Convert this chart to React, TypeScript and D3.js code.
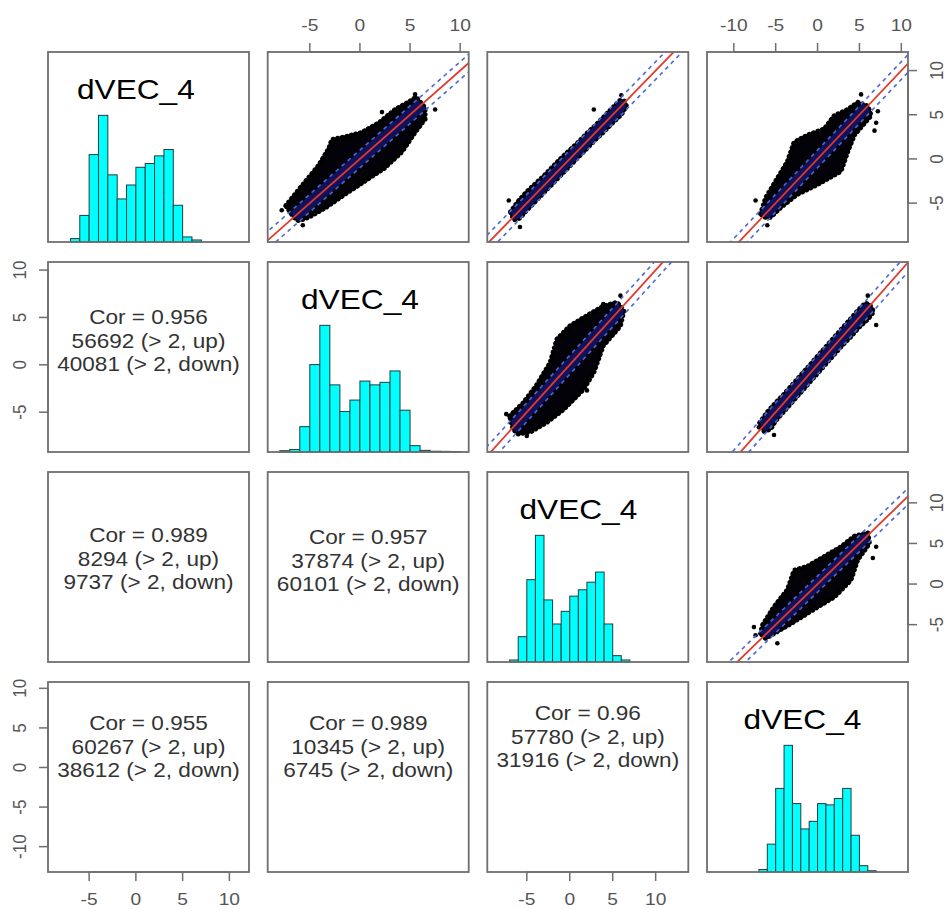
import React, { useEffect, useRef } from 'react';
import * as d3 from 'd3';

// variables of the pairs plot
const varNames = ['dVEC_4', 'dVEC_4', 'dVEC_4', 'dVEC_4'];
const varLimits: [number, number][] = [[-9.4, 12.1], [-9.2, 10.85], [-9.6, 13.8], [-13.2, 10.8]];
const varTicks = [[-5, 0, 5, 10], [-5, 0, 5, 10], [-5, 0, 5, 10], [-10, -5, 0, 5, 10]];

// histograms on the diagonal, bins of width 1
const histStart = [-7, -8, -7, -7];
const hist1 = [27, 210, 690, 1000, 530, 340, 450, 590, 620, 680, 730, 290, 40, 16];
const hist2 = [10, 20, 200, 690, 1000, 530, 320, 410, 560, 530, 550, 640, 330, 50, 13, 6, 5, 4];
const hist3 = [16, 200, 650, 1000, 490, 300, 400, 520, 570, 630, 710, 300, 50, 16];
const hist4 = [20, 220, 660, 1000, 540, 340, 400, 540, 530, 580, 660, 290, 50, 10];
const histCounts = [hist1, hist2, hist3, hist4];

// lower panels: [row, col]
const corCells = [[1, 0], [2, 0], [2, 1], [3, 0], [3, 1], [3, 2]];
const corValues = ['0.956', '0.989', '0.957', '0.955', '0.989', '0.96'];
const upCounts = [56692, 8294, 37874, 60267, 10345, 57780];
const downCounts = [40081, 9737, 60101, 38612, 6745, 31916];

// upper panels: [row, col], outline of the point cloud (x = col var, y = row var)
const scatterCells = [[0, 1], [0, 2], [0, 3], [1, 2], [1, 3], [2, 3]];
const cloud12 = [[-7.4, -5.3], [-5.7, -2.9], [-4.1, -0.7], [-3.1, 1.2], [-2.8, 2.2], [-1.5, 2.5], [0.2, 3.0], [1.9, 4.1], [3.5, 5.6], [4.8, 6.4], [5.6, 7.0], [6.5, 5.8], [6.5, 4.5], [5.5, 3.0], [4.2, 0.8], [2.5, -1.0], [0.5, -2.5], [-1.5, -4.0], [-3.4, -5.5], [-5.1, -6.6], [-6.1, -7.0], [-6.6, -6.6]];
const cloud13 = [[-6.9, -6.0], [-6, -4.8], [-5, -3.7], [-4, -2.8], [-3, -1.9], [-2, -0.9], [-1, 0.1], [0, 1.0], [1, 1.9], [2, 2.9], [3, 3.8], [4, 4.8], [5, 5.8], [5.8, 6.6], [6.3, 6.6], [6.6, 6.0], [6, 5.0], [5, 4.1], [4, 3.1], [3, 2.2], [2, 1.2], [1, 0.2], [0, -0.8], [-1, -1.8], [-2, -2.8], [-3, -3.8], [-4, -4.8], [-5, -5.8], [-5.8, -6.7], [-6.5, -6.9]];
const cloud14 = [[-6.8, -6.2], [-6.2, -4.4], [-4.8, -2.2], [-3.6, -0.3], [-2.8, 1.9], [-1.2, 2.7], [0.8, 3.4], [2.0, 4.9], [3.6, 5.6], [4.8, 6.4], [6.0, 6.0], [6.4, 4.9], [4.4, 2.7], [3.6, 0.8], [2.8, -1.4], [0.0, -2.9], [-2.4, -4.0], [-4.4, -5.5], [-5.6, -6.6], [-6.4, -6.6]];
const cloud23 = [[-7.0, -5.4], [-5.4, -4.0], [-3.9, -2.2], [-2.3, 0.2], [-1.5, 2.7], [0.0, 4.1], [2.0, 5.2], [3.9, 6.2], [5.5, 6.6], [6.3, 5.7], [5.9, 4.1], [3.9, 2.0], [2.8, -0.8], [1.6, -2.6], [-0.7, -4.7], [-2.7, -6.1], [-4.6, -7.1], [-6.0, -7.3], [-6.6, -6.8]];
const cloud24 = [[-6.9, -6.1], [-6, -5.0], [-5, -4.0], [-4, -3.1], [-3, -2.1], [-2, -1.1], [-1, -0.1], [0, 0.9], [1, 1.9], [2, 2.9], [3, 3.9], [4, 4.9], [5, 5.9], [5.7, 6.5], [6.2, 6.4], [6.7, 5.6], [6, 4.8], [5, 4.0], [4, 3.0], [3, 2.1], [2, 1.1], [1, 0.1], [0, -0.9], [-1, -1.9], [-2, -2.9], [-3, -3.9], [-4, -4.9], [-5, -5.9], [-5.6, -6.8], [-6.4, -7.0]];
const cloud34 = [[-6.8, -6.1], [-6.6, -5.1], [-5.2, -2.8], [-3.6, -0.7], [-2.8, 1.7], [-1.2, 2.2], [0.8, 3.4], [2.8, 4.6], [4.4, 5.9], [6.0, 6.3], [6.2, 5.0], [4.8, 3.0], [4.0, 0.5], [2.0, -1.6], [-1.2, -3.6], [-3.2, -4.9], [-5.2, -6.1], [-6.2, -6.7]];
const clouds = [cloud12, cloud13, cloud14, cloud23, cloud24, cloud34];

const outliers12 = [[-5.7, -7.5], [7.5, 5.6], [5.5, 7.3], [2.2, 5.3], [-7.8, -5.8]];
const outliers13 = [[-5.8, -7.7], [6.0, 7.2], [2.8, 5.6], [-7.1, -4.7]];
const outliers14 = [[-7.4, -4.7], [-6.0, -7.5], [5.2, 7.3], [7.0, 4.1], [6.8, 3.2], [7.2, 5.4]];
const outliers23 = [[-7.4, -5.2], [-5.0, -7.5], [5.9, 7.3], [3.9, 6.4], [2.0, -2.7]];
const outliers24 = [[-7.0, -6.6], [-5.2, -7.4], [7.0, 4.2], [6.0, 7.3]];
const outliers34 = [[-7.6, -5.3], [-7.4, -6.3], [-4.8, -7.3], [7.0, 4.6], [6.6, 3.2]];
const outliers = [outliers12, outliers13, outliers14, outliers23, outliers24, outliers34];

const W = 946;
const H = 909;
const panelX = [48, 267.7, 487.3, 707];
const panelY = [52, 262, 472, 682];
const panelW = 201;
const panelH = 190;
const SX = 1.13; // picture is stretched horizontally
const font = '"Liberation Sans", Arial, sans-serif';
const nameX = [0, 0, 1, -1.8];
const corTop = [55, 63, 65, 41, 41, 31];

export default function App() {
  const ref = useRef<SVGSVGElement>(null);

  useEffect(() => {
    const svg = d3.select(ref.current);
    svg.selectAll('*').remove();

    const xs = (c: number) => d3.scaleLinear().domain(varLimits[c]).range([panelX[c], panelX[c] + panelW]);
    const ys = (r: number) => d3.scaleLinear().domain(varLimits[r]).range([panelY[r] + panelH, panelY[r]]);

    const stretchText = (g: any, x: number, y: number, txt: string, size: number, color: string, rot = false) =>
      g.append('text')
        .attr('transform', `translate(${x},${y}) scale(${SX},1)${rot ? ' rotate(-90)' : ''}`)
        .attr('text-anchor', 'middle')
        .attr('font-family', font)
        .attr('font-size', size)
        .attr('fill', color)
        .text(txt);

    const defs = svg.append('defs');

    // diagonal: histograms
    for (let i = 0; i < 4; i++) {
      const g = svg.append('g');
      const x = xs(i);
      const counts = histCounts[i];
      const y = d3.scaleLinear().domain([0, 1.5 * d3.max(counts)!]).range([panelY[i] + panelH, panelY[i]]);
      g.selectAll('rect')
        .data(counts)
        .enter()
        .append('rect')
        .attr('x', (d, k) => x(histStart[i] + k))
        .attr('y', d => y(d))
        .attr('width', (d, k) => x(histStart[i] + k + 1) - x(histStart[i] + k))
        .attr('height', d => y(0) - y(d))
        .attr('fill', '#00ffff')
        .attr('stroke', '#1d3f3f')
        .attr('stroke-width', 1);
      stretchText(g, x(nameX[i]), panelY[i] + 47, varNames[i], 28, '#000');
    }

    // upper panels: scatter clouds with y = x and y = x +/- 1
    scatterCells.forEach(([r, c], k) => {
      const x = xs(c);
      const y = ys(r);
      const id = `clip${k}`;
      defs.append('clipPath').attr('id', id)
        .append('rect')
        .attr('x', panelX[c]).attr('y', panelY[r])
        .attr('width', panelW).attr('height', panelH);
      const shape = d3.line<number[]>().x(d => x(d[0])).y(d => y(d[1])).curve(d3.curveLinearClosed);
      const cloudPath = shape(clouds[k] as any)!;
      defs.append('clipPath').attr('id', `cloud${k}`)
        .append('path').attr('d', cloudPath);

      const g = svg.append('g').attr('clip-path', `url(#${id})`);
      g.append('path')
        .attr('d', cloudPath)
        .attr('fill', '#020208')
        .attr('stroke', '#000')
        .attr('stroke-width', 2)
        .attr('stroke-linejoin', 'round');
      // ragged edge made of dots
      g.append('path')
        .attr('d', cloudPath)
        .attr('fill', 'none')
        .attr('stroke', '#000')
        .attr('stroke-width', 5)
        .attr('stroke-linecap', 'round')
        .attr('stroke-dasharray', '0.1,4.5');
      const lo = Math.min(varLimits[r][0], varLimits[c][0]) - 2;
      const hi = Math.max(varLimits[r][1], varLimits[c][1]) + 2;
      // points within the fold-change band are dark blue
      g.append('path')
        .attr('clip-path', `url(#cloud${k})`)
        .attr('d', d3.area<number>().x(d => x(d)).y0(d => y(d - 0.9)).y1(d => y(d + 0.9))([lo, hi]))
        .attr('fill', '#12125a');
      g.selectAll('circle.out')
        .data(outliers[k])
        .enter()
        .append('circle')
        .attr('cx', d => x(d[0]))
        .attr('cy', d => y(d[1]))
        .attr('r', 2.3)
        .attr('fill', '#000');
      [-1, 1].forEach(off => {
        g.append('line')
          .attr('x1', x(lo)).attr('y1', y(lo + off))
          .attr('x2', x(hi)).attr('y2', y(hi + off))
          .attr('stroke', '#4a68d8')
          .attr('stroke-width', 1.6)
          .attr('stroke-dasharray', '4,4');
      });
      g.append('line')
        .attr('x1', x(lo)).attr('y1', y(lo))
        .attr('x2', x(hi)).attr('y2', y(hi))
        .attr('stroke', '#e23a2e')
        .attr('stroke-width', 1.8);
    });

    // lower panels: correlation text
    corCells.forEach(([r, c], k) => {
      const g = svg.append('g');
      const cx = panelX[c] + panelW / 2;
      const top = panelY[r] + corTop[k] + 7;
      stretchText(g, cx, top, `Cor = ${corValues[k]}`, 20, '#333');
      stretchText(g, cx, top + 23.5, `${upCounts[k]} (> 2, up)`, 20, '#333');
      stretchText(g, cx, top + 47, `${downCounts[k]} (> 2, down)`, 20, '#333');
    });

    // panel frames
    for (let r = 0; r < 4; r++) {
      for (let c = 0; c < 4; c++) {
        svg.append('rect')
          .attr('x', panelX[c]).attr('y', panelY[r])
          .attr('width', panelW).attr('height', panelH)
          .attr('fill', 'none')
          .attr('stroke', '#6e6e6e')
          .attr('stroke-width', 1.8);
      }
    }

    // axes, alternating sides like R pairs()
    const axisColor = '#555';
    const tickSize = 17;
    for (let c = 0; c < 4; c++) {
      const x = xs(c);
      const g = svg.append('g');
      const top = c % 2 === 1;
      const y0 = top ? panelY[0] : panelY[3] + panelH;
      const dir = top ? -1 : 1;
      const t = varTicks[c];
      g.append('line')
        .attr('x1', x(t[0])).attr('x2', x(t[t.length - 1]))
        .attr('y1', y0).attr('y2', y0)
        .attr('stroke', '#6e6e6e').attr('stroke-width', 1.5);
      t.forEach(v => {
        g.append('line')
          .attr('x1', x(v)).attr('x2', x(v))
          .attr('y1', y0).attr('y2', y0 + dir * 9)
          .attr('stroke', '#6e6e6e').attr('stroke-width', 1.5);
        stretchText(g, x(v), top ? 31 : 905, String(v), tickSize, axisColor);
      });
    }
    for (let r = 0; r < 4; r++) {
      const y = ys(r);
      const g = svg.append('g');
      const left = r % 2 === 1;
      const x0 = left ? panelX[0] : panelX[3] + panelW;
      const dir = left ? -1 : 1;
      const t = varTicks[r];
      g.append('line')
        .attr('y1', y(t[0])).attr('y2', y(t[t.length - 1]))
        .attr('x1', x0).attr('x2', x0)
        .attr('stroke', '#6e6e6e').attr('stroke-width', 1.5);
      t.forEach(v => {
        g.append('line')
          .attr('y1', y(v)).attr('y2', y(v))
          .attr('x1', x0).attr('x2', x0 + dir * 9)
          .attr('stroke', '#6e6e6e').attr('stroke-width', 1.5);
        stretchText(g, left ? 26 : 943, y(v), String(v), tickSize, axisColor, true);
      });
    }
  }, []);

  return (
    <svg ref={ref} width={W} height={H}
      style={{ position: 'absolute', left: 0, top: 0, background: '#fff' }} />
  );
}
